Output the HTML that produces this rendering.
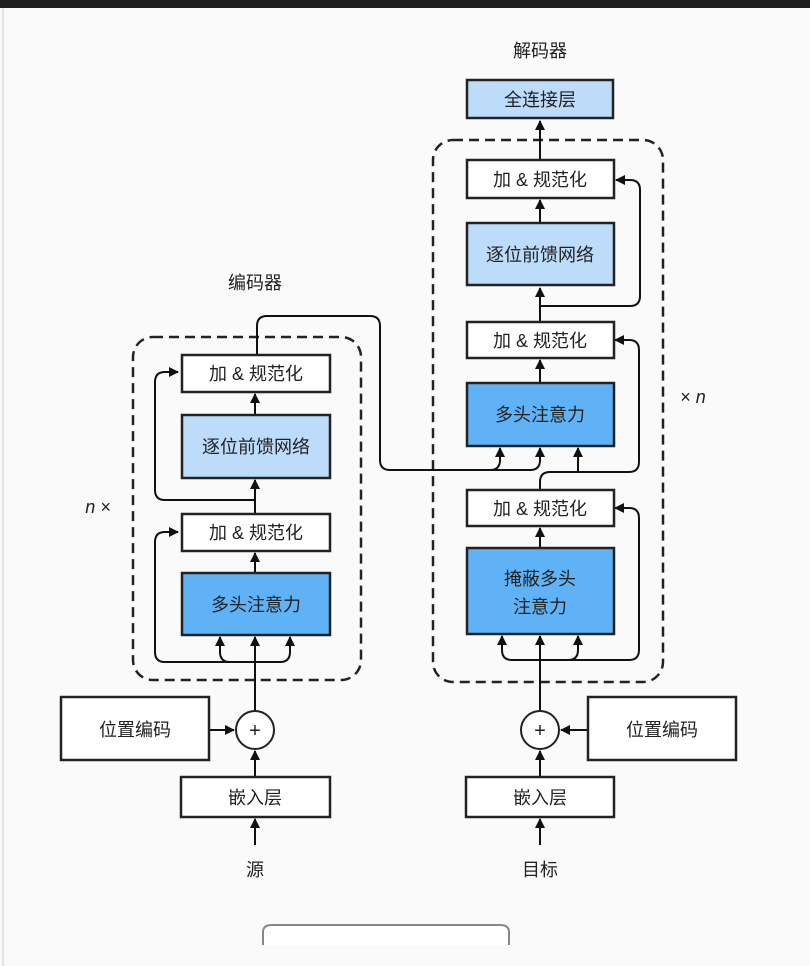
<!DOCTYPE html>
<html><head><meta charset="utf-8"><style>
html,body{margin:0;padding:0;background:#fafafa;}
svg{display:block;}
text{font-family:"Liberation Sans","Noto Sans CJK SC",sans-serif;fill:#222;}
</style></head><body>
<svg width="810" height="966" viewBox="0 0 810 966" xmlns="http://www.w3.org/2000/svg">
<defs>
<marker id="a" viewBox="0 0 10 10" refX="9" refY="5" markerWidth="5" markerHeight="5" orient="auto"><path d="M0,0 L10,5 L0,10 z" fill="#111"/></marker>
</defs>
<rect x="0" y="0" width="810" height="966" fill="#fafafa"/>
<rect x="0" y="0" width="810" height="8" fill="#1f1f1f"/>
<line x1="3" y1="8" x2="3" y2="966" stroke="#ccc" stroke-width="1"/>

<!-- dashed containers -->
<rect x="133" y="337" width="228" height="343" rx="20" fill="none" stroke="#222" stroke-width="2.5" stroke-dasharray="10,6"/>
<rect x="433" y="140" width="230" height="542" rx="20" fill="none" stroke="#222" stroke-width="2.5" stroke-dasharray="10,6"/>

<g stroke="#111" stroke-width="2" fill="none">
<!-- encoder -->
<line x1="255" y1="777" x2="255" y2="751" marker-end="url(#a)"/>
<line x1="209" y1="730" x2="234" y2="730" marker-end="url(#a)"/>
<line x1="255" y1="711" x2="255" y2="637" marker-end="url(#a)"/>
<path d="M255,662 H230 Q220,662 220,652 V637" marker-end="url(#a)"/>
<path d="M255,662 H280 Q290,662 290,652 V637" marker-end="url(#a)"/>
<path d="M230,662 H165 Q155,662 155,652 V542 Q155,532 165,532 H178" marker-end="url(#a)"/>
<line x1="255" y1="573" x2="255" y2="553" marker-end="url(#a)"/>
<line x1="255" y1="514" x2="255" y2="480" marker-end="url(#a)"/>
<path d="M255,500 H165 Q155,500 155,490 V382 Q155,372 165,372 H178" marker-end="url(#a)"/>
<line x1="255" y1="415" x2="255" y2="394" marker-end="url(#a)"/>
<path d="M257,354 V326 Q257,316 267,316 H370 Q380,316 380,326 V460 Q380,470 390,470 H490 Q500,470 500,460 V448" marker-end="url(#a)"/>
<path d="M490,470 H530 Q540,470 540,460 V448" marker-end="url(#a)"/>
<!-- decoder -->
<line x1="540" y1="777" x2="540" y2="751" marker-end="url(#a)"/>
<line x1="588" y1="730" x2="561" y2="730" marker-end="url(#a)"/>
<line x1="540" y1="711" x2="540" y2="636" marker-end="url(#a)"/>
<path d="M540,660 H512 Q502,660 502,650 V636" marker-end="url(#a)"/>
<path d="M540,660 H568 Q578,660 578,650 V636" marker-end="url(#a)"/>
<path d="M568,660 H629 Q639,660 639,650 V518 Q639,508 629,508 H615" marker-end="url(#a)"/>
<line x1="540" y1="548" x2="540" y2="528" marker-end="url(#a)"/>
<path d="M540,490 V482 Q540,472 550,472 H629 Q639,472 639,462 V350 Q639,340 629,340 H615" marker-end="url(#a)"/>
<path d="M578,472 V448" marker-end="url(#a)"/>
<line x1="540" y1="383" x2="540" y2="360" marker-end="url(#a)"/>
<line x1="540" y1="322" x2="540" y2="288" marker-end="url(#a)"/>
<path d="M540,306 H630 Q640,306 640,296 V190 Q640,180 630,180 H616" marker-end="url(#a)"/>
<line x1="540" y1="223" x2="540" y2="200" marker-end="url(#a)"/>
<line x1="540" y1="160" x2="540" y2="121" marker-end="url(#a)"/>
<!-- inputs -->
<line x1="255" y1="845" x2="255" y2="819" marker-end="url(#a)"/>
<line x1="540" y1="845" x2="540" y2="819" marker-end="url(#a)"/>
</g>

<g stroke="#222" stroke-width="2.5">
<rect x="182" y="355" width="148" height="37" fill="#fff"/>
<rect x="182" y="415" width="148" height="63" fill="#bcdcfa"/>
<rect x="182" y="514" width="148" height="37" fill="#fff"/>
<rect x="182" y="573" width="148" height="62" fill="#5fb2f5"/>
<rect x="61" y="697" width="148" height="63" fill="#fff"/>
<rect x="181" y="777" width="149" height="40" fill="#fff"/>
<rect x="467" y="80" width="146" height="38" fill="#bcdcfa"/>
<rect x="467" y="160" width="147" height="38" fill="#fff"/>
<rect x="467" y="223" width="147" height="62" fill="#bcdcfa"/>
<rect x="467" y="322" width="147" height="36" fill="#fff"/>
<rect x="467" y="383" width="147" height="63" fill="#5fb2f5"/>
<rect x="467" y="490" width="147" height="36" fill="#fff"/>
<rect x="467" y="548" width="147" height="86" fill="#5fb2f5"/>
<rect x="588" y="697" width="148" height="63" fill="#fff"/>
<rect x="466" y="777" width="148" height="40" fill="#fff"/>
</g>
<g stroke="#222" stroke-width="2" fill="#fff">
<circle cx="255" cy="730" r="19"/>
<circle cx="540" cy="730" r="19"/>
</g>

<g font-size="18" text-anchor="middle">
<text x="540" y="57">解码器</text>
<text x="255" y="289">编码器</text>
<text x="540" y="106">全连接层</text>
<text x="540" y="186">加 &amp; 规范化</text>
<text x="540" y="261">逐位前馈网络</text>
<text x="540" y="347">加 &amp; 规范化</text>
<text x="540" y="421">多头注意力</text>
<text x="540" y="515">加 &amp; 规范化</text>
<text x="540" y="585">掩蔽多头</text>
<text x="540" y="613">注意力</text>
<text x="256" y="380">加 &amp; 规范化</text>
<text x="256" y="453">逐位前馈网络</text>
<text x="256" y="539">加 &amp; 规范化</text>
<text x="256" y="611">多头注意力</text>
<text x="135" y="736">位置编码</text>
<text x="662" y="736">位置编码</text>
<text x="255" y="804">嵌入层</text>
<text x="540" y="804">嵌入层</text>
<text x="255" y="876">源</text>
<text x="540" y="876">目标</text>
<text x="255" y="737" font-size="20">+</text>
<text x="540" y="737" font-size="20">+</text>
<text x="98" y="513" font-style="italic" font-family="Liberation Serif, serif">n ×</text>
<text x="693" y="403" font-family="Liberation Serif, serif">× <tspan font-style="italic">n</tspan></text>
</g>

<path d="M263,945 V932 Q263,925 272,925 H500 Q509,925 509,932 V945" fill="#fff" stroke="#888" stroke-width="2"/>
</svg>
</body></html>
